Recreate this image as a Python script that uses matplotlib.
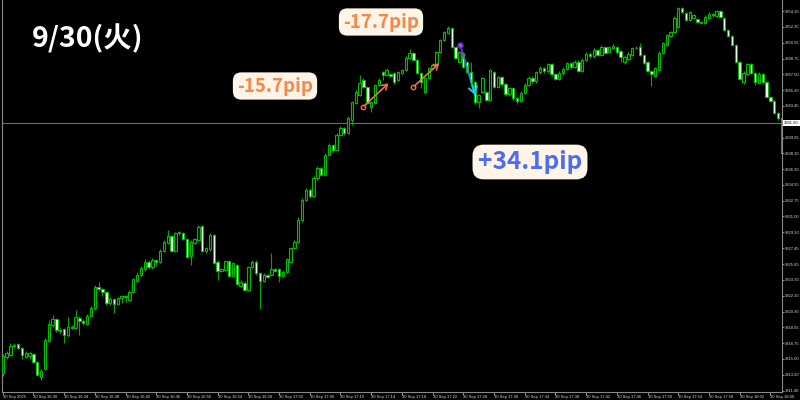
import matplotlib
matplotlib.use('Agg')
import matplotlib.pyplot as plt
import numpy as np

# ---------------- data (30-second candles, 30 Sep) ----------------
opens = [3813.36, 3815.24, 3815.42, 3816.45, 3816.62, 3816.17, 3815.24, 3815.30, 3815.53, 3814.67,
         3812.99, 3813.81, 3817.03, 3818.80, 3819.43, 3818.20, 3818.35, 3817.67, 3818.61, 3818.42,
         3819.62, 3819.28, 3818.91, 3819.81, 3820.67, 3823.11, 3822.81, 3822.54, 3821.23, 3821.68,
         3821.16, 3821.79, 3822.06, 3821.61, 3822.47, 3823.74, 3824.42, 3825.06, 3825.92, 3825.28,
         3826.10, 3825.92, 3827.12, 3827.98, 3828.80, 3827.15, 3829.10, 3829.10, 3828.43, 3826.55,
         3828.05, 3828.35, 3829.92, 3827.15, 3827.30, 3828.92, 3825.92, 3824.91, 3824.98, 3825.99,
         3824.31, 3825.54, 3823.18, 3823.56, 3822.73, 3825.28, 3825.92, 3824.61, 3823.78, 3824.42,
         3824.42, 3825.06, 3825.06, 3824.31, 3824.79, 3825.92, 3827.42, 3828.17, 3830.60, 3832.85,
         3833.97, 3833.30, 3835.30, 3836.45, 3835.70, 3837.91, 3839.03, 3838.50, 3840.16, 3840.95,
         3840.40, 3841.85, 3843.76, 3844.66, 3846.34, 3845.56, 3843.31, 3843.76, 3845.78, 3847.24,
         3846.91, 3847.02, 3847.13, 3846.34, 3847.13, 3847.47, 3848.82, 3849.38, 3848.59, 3847.13,
         3844.99, 3846.57, 3847.69, 3848.03, 3849.49, 3850.84, 3851.63, 3852.19, 3850.05, 3848.37,
         3849.38, 3848.37, 3847.24, 3846.12, 3843.87, 3844.99, 3844.99, 3844.10, 3847.24, 3845.56,
         3846.68, 3845.90, 3844.80, 3845.40, 3844.30, 3844.00, 3844.90, 3845.80, 3846.60, 3846.20,
         3847.20, 3847.70, 3847.30, 3848.10, 3847.00, 3846.50, 3847.10, 3847.60, 3848.20, 3847.80,
         3848.40, 3847.40, 3848.60, 3849.30, 3849.00, 3849.70, 3849.16, 3850.05, 3849.49, 3849.94,
         3850.05, 3849.60, 3848.37, 3848.71, 3849.16, 3849.94, 3850.05, 3849.16, 3848.37, 3847.36,
         3846.79, 3847.47, 3849.38, 3850.28, 3851.29, 3851.74, 3852.30, 3854.44, 3853.88, 3853.09,
         3853.32, 3853.20, 3852.87, 3852.75, 3853.32, 3853.77, 3853.54, 3854.10, 3853.32, 3851.97,
         3851.29, 3850.28, 3848.37, 3846.12, 3847.02, 3848.14, 3847.13, 3846.01, 3847.02, 3846.12,
         3844.43, 3843.98, 3842.63, 3842.07]
closes = [3815.31, 3815.68, 3816.47, 3816.55, 3816.25, 3815.42, 3815.68, 3815.60, 3814.67, 3813.17,
          3813.66, 3817.11, 3818.91, 3819.43, 3818.23, 3818.10, 3817.63, 3818.61, 3818.42, 3819.66,
          3819.28, 3818.98, 3819.81, 3820.75, 3823.11, 3822.81, 3822.54, 3821.23, 3821.72, 3821.12,
          3821.79, 3822.06, 3821.98, 3822.54, 3823.93, 3824.42, 3825.17, 3825.92, 3825.28, 3826.10,
          3825.84, 3827.12, 3828.17, 3828.80, 3827.15, 3829.10, 3829.22, 3828.43, 3826.48, 3828.17,
          3828.43, 3829.85, 3827.15, 3827.42, 3828.92, 3825.80, 3824.91, 3825.06, 3825.99, 3824.34,
          3825.73, 3823.41, 3823.67, 3822.73, 3825.28, 3825.92, 3824.61, 3823.78, 3824.42, 3824.23,
          3825.06, 3824.91, 3824.31, 3824.79, 3826.18, 3827.42, 3828.17, 3830.60, 3832.85, 3833.97,
          3833.30, 3835.30, 3836.45, 3835.70, 3837.91, 3839.03, 3838.50, 3840.16, 3840.95, 3840.40,
          3842.07, 3843.87, 3844.99, 3846.01, 3845.56, 3843.76, 3843.87, 3845.78, 3846.34, 3846.91,
          3847.47, 3846.85, 3846.12, 3847.24, 3847.47, 3848.82, 3849.38, 3848.59, 3847.13, 3846.12,
          3846.57, 3847.69, 3848.03, 3849.49, 3850.84, 3851.74, 3852.19, 3850.05, 3848.82, 3849.49,
          3847.81, 3847.24, 3846.12, 3843.87, 3844.66, 3846.57, 3844.10, 3847.47, 3845.56, 3846.68,
          3845.90, 3844.80, 3845.40, 3844.30, 3844.00, 3844.90, 3845.80, 3846.60, 3846.20, 3847.20,
          3847.70, 3847.30, 3848.10, 3847.00, 3846.50, 3847.10, 3847.60, 3848.20, 3847.80, 3848.40,
          3847.40, 3848.60, 3849.30, 3849.00, 3849.70, 3849.20, 3850.05, 3849.38, 3850.05, 3850.17,
          3849.49, 3848.93, 3848.93, 3849.27, 3849.94, 3849.99, 3849.16, 3848.26, 3847.36, 3847.02,
          3847.69, 3849.38, 3850.50, 3851.40, 3851.74, 3853.32, 3854.44, 3853.99, 3853.09, 3853.99,
          3853.65, 3852.87, 3852.75, 3853.43, 3853.77, 3853.60, 3854.10, 3853.43, 3851.97, 3851.29,
          3850.28, 3848.37, 3846.46, 3847.13, 3848.14, 3847.13, 3846.12, 3847.02, 3846.12, 3844.43,
          3843.98, 3842.63, 3842.07, 3838.13]
highs = [3815.50, 3815.90, 3816.75, 3816.80, 3816.80, 3816.30, 3815.85, 3815.75, 3815.70, 3814.80,
         3813.85, 3817.30, 3819.40, 3819.92, 3819.55, 3818.45, 3818.50, 3819.73, 3818.80, 3820.48,
         3819.80, 3819.50, 3820.00, 3820.95, 3823.30, 3823.67, 3823.00, 3822.65, 3821.90, 3821.85,
         3821.95, 3822.20, 3822.20, 3822.70, 3824.10, 3824.70, 3825.40, 3826.20, 3826.05, 3826.35,
         3826.25, 3827.30, 3828.35, 3829.48, 3828.95, 3829.30, 3829.40, 3829.20, 3828.55, 3828.30,
         3828.60, 3830.00, 3830.05, 3827.60, 3829.10, 3829.05, 3826.05, 3825.25, 3826.15, 3826.10,
         3825.90, 3825.70, 3823.85, 3823.70, 3825.45, 3826.10, 3826.05, 3824.75, 3824.60, 3824.55,
         3826.85, 3825.20, 3825.20, 3824.95, 3826.35, 3827.60, 3828.35, 3830.90, 3833.10, 3834.20,
         3834.15, 3835.50, 3836.70, 3836.60, 3838.10, 3839.30, 3839.20, 3840.40, 3841.20, 3841.10,
         3842.30, 3844.00, 3845.20, 3846.91, 3846.60, 3845.70, 3844.00, 3845.95, 3846.60, 3847.40,
         3847.65, 3847.15, 3847.25, 3847.40, 3847.60, 3849.00, 3849.80, 3849.50, 3848.70, 3847.25,
         3846.70, 3847.85, 3848.20, 3849.65, 3851.00, 3851.90, 3852.42, 3852.30, 3850.15, 3849.65,
         3849.50, 3848.50, 3848.37, 3846.25, 3844.80, 3846.70, 3845.10, 3847.60, 3847.40, 3846.85,
         3846.80, 3846.00, 3845.60, 3845.50, 3844.45, 3845.10, 3846.00, 3846.80, 3846.75, 3847.40,
         3847.90, 3847.80, 3848.30, 3848.20, 3847.10, 3847.30, 3847.80, 3848.40, 3848.35, 3848.60,
         3848.55, 3848.80, 3849.50, 3849.45, 3849.90, 3849.85, 3850.25, 3850.20, 3850.20, 3850.35,
         3850.20, 3849.75, 3849.10, 3849.45, 3850.10, 3850.15, 3850.50, 3849.30, 3848.50, 3847.50,
         3847.85, 3849.55, 3850.65, 3851.55, 3851.90, 3853.50, 3854.60, 3854.55, 3854.00, 3854.15,
         3853.80, 3853.35, 3853.00, 3853.60, 3853.95, 3853.90, 3854.25, 3854.20, 3853.45, 3852.10,
         3851.40, 3850.40, 3848.50, 3847.30, 3848.30, 3848.30, 3847.25, 3847.20, 3847.15, 3846.25,
         3844.55, 3844.10, 3842.75, 3842.20]
lows = [3813.10, 3815.00, 3815.30, 3816.20, 3816.10, 3814.95, 3815.10, 3815.00, 3814.55, 3813.05,
        3812.60, 3813.70, 3816.90, 3818.60, 3818.00, 3817.85, 3816.74, 3817.50, 3818.30, 3818.30,
        3817.67, 3818.80, 3818.75, 3819.70, 3820.50, 3822.65, 3822.10, 3821.00, 3821.05, 3820.18,
        3821.00, 3821.30, 3821.40, 3821.45, 3822.35, 3823.60, 3824.30, 3824.90, 3825.10, 3825.10,
        3825.40, 3825.80, 3827.00, 3827.85, 3827.00, 3827.00, 3828.90, 3828.30, 3826.30, 3825.54,
        3827.90, 3828.20, 3827.00, 3826.90, 3827.15, 3825.65, 3823.85, 3824.75, 3824.85, 3824.20,
        3824.15, 3823.30, 3823.05, 3822.60, 3822.60, 3825.15, 3824.45, 3820.56, 3823.65, 3824.05,
        3824.30, 3824.75, 3823.60, 3824.20, 3824.65, 3825.80, 3827.30, 3828.05, 3830.40, 3832.70,
        3833.10, 3833.15, 3835.10, 3835.50, 3835.55, 3837.80, 3838.30, 3838.35, 3840.00, 3840.20,
        3840.25, 3841.28, 3843.60, 3844.50, 3845.40, 3843.60, 3842.75, 3843.60, 3845.65, 3846.40,
        3846.80, 3846.70, 3845.95, 3846.20, 3847.00, 3847.35, 3848.70, 3848.45, 3847.00, 3845.45,
        3844.80, 3846.45, 3847.55, 3847.90, 3849.35, 3850.70, 3851.50, 3849.90, 3848.70, 3848.25,
        3847.65, 3847.10, 3846.00, 3843.70, 3843.20, 3844.85, 3843.95, 3843.95, 3845.40, 3845.40,
        3845.70, 3844.60, 3844.60, 3844.10, 3843.60, 3843.85, 3844.75, 3845.65, 3846.00, 3846.05,
        3847.05, 3847.10, 3847.15, 3846.80, 3846.30, 3846.35, 3846.95, 3847.45, 3847.60, 3847.65,
        3847.20, 3847.25, 3848.45, 3848.80, 3848.85, 3849.05, 3849.00, 3849.25, 3849.35, 3849.80,
        3849.30, 3848.37, 3848.15, 3848.55, 3849.00, 3849.80, 3849.00, 3848.10, 3847.20, 3845.67,
        3846.65, 3847.30, 3849.25, 3850.15, 3851.15, 3851.60, 3852.15, 3853.85, 3852.95, 3852.95,
        3853.15, 3852.70, 3852.60, 3852.60, 3853.20, 3853.45, 3853.40, 3853.30, 3851.85, 3851.15,
        3850.15, 3848.25, 3846.30, 3845.95, 3846.90, 3847.00, 3845.80, 3845.85, 3845.95, 3844.30,
        3843.85, 3842.50, 3841.90, 3838.00]

xtick_labels = ["30 Sep 2025", "30 Sep 16:30", "30 Sep 16:34", "30 Sep 16:38", "30 Sep 16:42",
                "30 Sep 16:46", "30 Sep 16:50", "30 Sep 16:54", "30 Sep 16:58", "30 Sep 17:02",
                "30 Sep 17:06", "30 Sep 17:10", "30 Sep 17:14", "30 Sep 17:18", "30 Sep 17:22",
                "30 Sep 17:26", "30 Sep 17:30", "30 Sep 17:34", "30 Sep 17:38", "30 Sep 17:42",
                "30 Sep 17:46", "30 Sep 17:50", "30 Sep 17:54", "30 Sep 17:58", "30 Sep 18:02",
                "30 Sep 18:06"]
bars_per_label = 8
ytick_values = [3854.10, 3852.35, 3850.55, 3848.75, 3847.00, 3845.20, 3843.45, 3841.65,
                3839.85, 3838.10, 3836.30, 3834.55, 3832.75, 3831.00, 3829.20, 3827.45,
                3825.65, 3823.90, 3822.10, 3820.30, 3818.55, 3816.75, 3815.00, 3813.20, 3811.40]
current_price = 3841.50

date_title = "9/30(火)"
pip_texts = ["-15.7pip", "-17.7pip", "+34.1pip"]

# arrows (bar index, price)
trade_arrows = [((93.8, 3843.27), (100.5, 3845.97)),
                ((106.9, 3845.52), (113.7, 3848.22))]
exit_arrow = ((119.2, 3850.28), (123.1, 3844.66))

# ---------------- styling ----------------
BG = 'black'
EDGE = '#00bb00'
WICK = '#00a800'
BULL_FILL = '#001a00'
BEAR_FILL = '#eaffea'
AX_COL = '#8a8a8a'
LBL_COL = '#d8d8d8'
TICK_FONT = 'Liberation Sans'
TFS = 3.0

fig = plt.figure(figsize=(8, 4), dpi=100, facecolor=BG)
ax = fig.add_axes([2 / 800, 8 / 400, 780 / 800, 392 / 400], facecolor=BG)

o = np.array(opens); c = np.array(closes); h = np.array(highs); l = np.array(lows)
x = np.arange(len(o))
bull = c >= o
ax.vlines(x, l, h, color=WICK, lw=0.8, zorder=2)
bottoms = np.minimum(o, c)
heights = np.maximum(np.abs(c - o), 0.03)
ax.bar(x, heights, bottom=bottoms, width=0.62,
       color=np.where(bull, BULL_FILL, BEAR_FILL), edgecolor=EDGE, linewidth=0.75, zorder=3)

ax.axhline(current_price, color='#6e6e6e', lw=0.8, zorder=1)

ax.set_xlim(-0.18, 203.03)
ax.set_ylim(3811.26, 3855.34)

ax.spines['top'].set_visible(False)
for s in ['left', 'right', 'bottom']:
    ax.spines[s].set_color(AX_COL)
    ax.spines[s].set_linewidth(0.8)

ax.yaxis.tick_right()
ax.set_yticks(ytick_values)
ax.set_yticklabels([f"{v:.2f}" for v in ytick_values])
ax.tick_params(axis='y', direction='out', length=1.5, color=AX_COL, labelsize=TFS,
               labelcolor=LBL_COL, pad=0.6)
ax.set_xticks(np.arange(len(xtick_labels)) * bars_per_label)
ax.set_xticklabels(xtick_labels, ha='left')
ax.tick_params(axis='x', direction='out', length=2, color=AX_COL, labelsize=TFS,
               labelcolor=LBL_COL, pad=0.4)
for t in ax.get_xticklabels() + ax.get_yticklabels():
    t.set_fontfamily(TICK_FONT)

ax.annotate(f"{current_price:.2f}", xy=(1, current_price), xycoords=('axes fraction', 'data'),
            xytext=(1.6, 0), textcoords='offset points', ha='left', va='center',
            fontsize=TFS, color='black', family=TICK_FONT,
            bbox=dict(boxstyle='square,pad=0.2', fc='white', ec='none'), zorder=10,
            annotation_clip=False)

# trade arrows
ARROW_COL = '#f0704e'
for (x0, y0), (x1, y1) in trade_arrows:
    ax.annotate('', xy=(x1, y1), xytext=(x0, y0),
                arrowprops=dict(arrowstyle='->,head_length=0.35,head_width=0.22',
                                color=ARROW_COL, lw=1.2, shrinkA=1.5, shrinkB=0), zorder=6)
    ax.plot([x0], [y0], 'o', mfc='none', mec=ARROW_COL, ms=3.2, mew=1.0, zorder=7)

(ex0, ey0), (ex1, ey1) = exit_arrow
N = 30
c0 = np.array([0x70, 0x2c, 0xd0]) / 255
c1 = np.array([0x22, 0xc8, 0xf2]) / 255
for k in range(N):
    t0, t1 = k / N, (k + 1) / N
    col = c0 + (c1 - c0) * (t0 + t1) / 2
    ax.plot([ex0 + (ex1 - ex0) * t0, ex0 + (ex1 - ex0) * t1],
            [ey0 + (ey1 - ey0) * t0, ey0 + (ey1 - ey0) * t1],
            color=col, lw=1.4, solid_capstyle='butt', zorder=6)
ax.annotate('', xy=(ex1, ey1), xytext=(ex0 + (ex1 - ex0) * 0.8, ey0 + (ey1 - ey0) * 0.8),
            arrowprops=dict(arrowstyle='->,head_length=0.45,head_width=0.3',
                            color='#22c8f2', lw=1.4, shrinkA=0, shrinkB=0), zorder=7)
ax.plot([ex0], [ey0], 'o', mfc='#8a5ae0', mec='#6a24c8', ms=3.6, mew=1.0, zorder=8)

# texts
CJK = ['Noto Sans CJK JP', 'DejaVu Sans']
fig.text(32 / 800, 1 - 47 / 400, date_title, ha='left', va='baseline', fontsize=20.5,
         fontweight='bold', color='white', family=CJK)

ORANGE = '#f5894a'
BOX = '#fef4e8'
fig.text(275 / 800, 1 - 86 / 400, pip_texts[0], ha='center', va='center', fontsize=13.5,
         fontweight='bold', color=ORANGE, family=CJK,
         bbox=dict(boxstyle='round,pad=0.22,rounding_size=0.45', fc=BOX, ec='none'))
fig.text(381 / 800, 1 - 22 / 400, pip_texts[1], ha='center', va='center', fontsize=13.5,
         fontweight='bold', color=ORANGE, family=CJK,
         bbox=dict(boxstyle='round,pad=0.22,rounding_size=0.45', fc=BOX, ec='none'))
fig.text(530 / 800, 1 - 162 / 400, pip_texts[2], ha='center', va='center', fontsize=17.5,
         fontweight='bold', color='#4d6cf0', family=CJK,
         bbox=dict(boxstyle='round,pad=0.22,rounding_size=0.45', fc=BOX, ec='none'))

fig.savefig('out.png', dpi=100, facecolor=BG)
